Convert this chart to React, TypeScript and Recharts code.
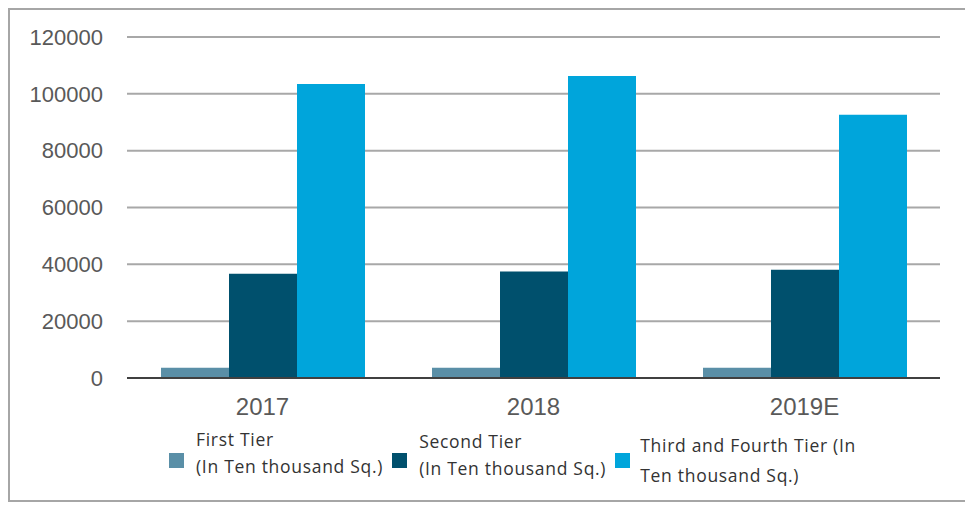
import { BarChart, Bar, XAxis, YAxis, CartesianGrid, Legend } from 'recharts'

const years = ['2017', '2018', '2019E']
const firstTier = [3600, 3600, 3600]
const secondTier = [36700, 37500, 38100]
const thirdTier = [103500, 106300, 92600]
const yTicks = [0, 20000, 40000, 60000, 80000, 100000, 120000]

const seriesNames = [
  'First Tier (In Ten thousand Sq.)',
  'Second Tier (In Ten thousand Sq.)',
  'Third and Fourth Tier (In Ten thousand Sq.)',
]
const legendLines = [
  ['First Tier', '(In Ten thousand Sq.)'],
  ['Second Tier', '(In Ten thousand Sq.)'],
  ['Third and Fourth Tier (In', 'Ten thousand Sq.)'],
]
const COLORS = ['#5a8fa7', '#00506d', '#00a5db']

const data = years.map((year, i) => ({
  year,
  first: firstTier[i],
  second: secondTier[i],
  third: thirdTier[i],
}))

function TierLegend() {
  return (
    <div
      style={{
        display: 'flex',
        alignItems: 'flex-start',
        paddingLeft: 159,
        height: 70,
        boxSizing: 'border-box',
        paddingTop: 8,
        fontFamily: '"Open Sans", sans-serif',
        fontSize: 17.5,
        letterSpacing: 0.7,
        color: '#333',
      }}
    >
      {legendLines.map((lines, i) => (
        <div key={i} style={{ display: 'flex', alignItems: 'flex-start', marginRight: 9 }}>
          <span
            style={{
              width: 15,
              height: 15,
              background: COLORS[i],
              marginRight: i === 2 ? 10 : 12,
              marginTop: 27,
              flex: 'none',
            }}
          />
          <div style={{ lineHeight: i === 2 ? '30px' : '27px', paddingTop: i === 0 ? 0 : i === 1 ? 2 : 4 }}>
            {lines.map((l) => (
              <div key={l} style={{ whiteSpace: 'nowrap' }}>{l}</div>
            ))}
          </div>
        </div>
      ))}
    </div>
  )
}

export default function App() {
  return (
    <div
      style={{
        width: 957,
        height: 490,
        border: '2px solid #a6a6a6',
        background: '#fff',
      }}
    >
      <BarChart
        width={957}
        height={490}
        data={data}
        margin={{ top: 27, right: 27, left: 0, bottom: 12 }}
        barGap={0}
      >
        <CartesianGrid vertical={false} stroke="#a8a8a8" strokeWidth={2} />
        <XAxis
          dataKey="year"
          height={40}
          tickLine={false}
          tickSize={0}
          tickMargin={20}
          axisLine={{ stroke: '#404040', strokeWidth: 2 }}
          tick={{ fill: '#595959', fontSize: 24, fontFamily: 'Liberation Sans, Arial, sans-serif' }}
        />
        <YAxis
          width={117}
          domain={[0, 120000]}
          ticks={yTicks}
          axisLine={false}
          tickLine={false}
          tickSize={0}
          tickMargin={24}
          tick={{ fill: '#595959', fontSize: 22, fontFamily: 'Liberation Sans, Arial, sans-serif' }}
        />
        <Legend verticalAlign="bottom" content={() => <TierLegend />} wrapperStyle={{ left: 0, width: 957 }} />
        <Bar dataKey="first" name={seriesNames[0]} fill={COLORS[0]} barSize={68} isAnimationActive={false} />
        <Bar dataKey="second" name={seriesNames[1]} fill={COLORS[1]} barSize={68} isAnimationActive={false} />
        <Bar dataKey="third" name={seriesNames[2]} fill={COLORS[2]} barSize={68} isAnimationActive={false} />
      </BarChart>
    </div>
  )
}
